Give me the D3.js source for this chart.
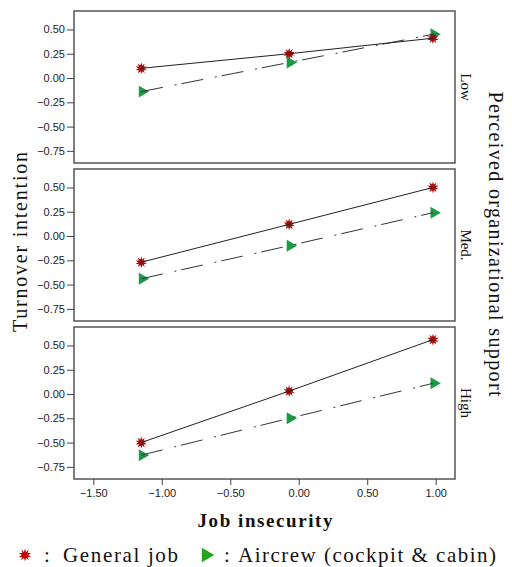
<!DOCTYPE html>
<html><head><meta charset="utf-8">
<script src="https://cdn.jsdelivr.net/npm/d3@7"></script>
<style>body{margin:0;background:#fff}</style>
</head><body>
<svg id="c" width="512" height="567"></svg>
<script>
const xValues = [-1.15, -0.07, 0.98];
const panels = ["Low", "Med.", "High"];
const generalJob = [[0.10, 0.25, 0.41], [-0.27, 0.12, 0.50], [-0.50, 0.03, 0.56]];
const aircrew = [[-0.14, 0.16, 0.45], [-0.44, -0.10, 0.24], [-0.63, -0.25, 0.11]];
const yTicks = [0.50, 0.25, 0.00, -0.25, -0.50, -0.75];
const xTicks = [-1.50, -1.00, -0.50, 0.00, 0.50, 1.00];

const svg = d3.select("#c");
const L = 74, R = 455, H = 152, tops = [11, 169, 327];
const x = d3.scaleLinear().domain([-1.641, 1.141]).range([L, R]);
const y = d3.scaleLinear().domain([-0.875, 0.69]).range([H, 0]);
const fmt = d3.format(".2f");
const sans = "Liberation Sans, Arial, sans-serif";
const serif = "Liberation Serif, Times New Roman, serif";

function starPath(ro, ri, n) {
  const pts = [];
  for (let i = 0; i < 2 * n; i++) {
    const a = Math.PI * i / n - Math.PI / 2;
    const r = i % 2 ? ri : ro;
    pts.push([r * Math.cos(a), r * Math.sin(a)]);
  }
  return "M" + pts.map(p => p.join(",")).join("L") + "Z";
}
const tri = d3.symbol().type(d3.symbolTriangle).size(62)();

panels.forEach((name, i) => {
  const g = svg.append("g").attr("transform", `translate(0,${tops[i]})`);
  g.append("rect").attr("x", L).attr("y", 0).attr("width", R - L).attr("height", H)
    .attr("fill", "#fff").attr("stroke", "#555").attr("stroke-width", 1.5);
  const ya = g.append("g").attr("transform", `translate(${L},0)`)
    .call(d3.axisLeft(y).tickValues(yTicks).tickFormat(fmt).tickSize(7).tickPadding(2));
  ya.select(".domain").remove();
  ya.selectAll("line").attr("stroke", "#444");
  ya.selectAll("text").attr("font-family", sans).attr("font-size", 11).attr("fill", "#222");
  if (i === 2) {
    const xa = g.append("g").attr("transform", `translate(0,${H})`)
      .call(d3.axisBottom(x).tickValues(xTicks).tickFormat(fmt).tickSize(6).tickPadding(4));
    xa.select(".domain").remove();
    xa.selectAll("line").attr("stroke", "#444");
    xa.selectAll("text").attr("font-family", sans).attr("font-size", 11).attr("fill", "#222");
  }
  g.selectAll(".tri").data(aircrew[i]).join("path")
    .attr("d", tri).attr("fill", "#1c9a48")
    .attr("transform", (d, k) => `translate(${x(xValues[k]) + 1},${y(d)}) rotate(90)`);
  g.selectAll(".star").data(generalJob[i]).join("path")
    .attr("d", starPath(6, 3, 10)).attr("fill", "#a30c0c")
    .attr("transform", (d, k) => `translate(${x(xValues[k])},${y(d)})`);
  const line = d3.line().x((d, k) => x(xValues[k])).y(d => y(d));
  g.append("path").datum(aircrew[i]).attr("d", line).attr("fill", "none")
    .attr("stroke", "#333").attr("stroke-width", 1).attr("stroke-dasharray", "22,12,2,5");
  g.append("path").datum(generalJob[i]).attr("d", line).attr("fill", "none")
    .attr("stroke", "#222").attr("stroke-width", 1);
  g.append("text").attr("transform", `translate(461,${H / 2}) rotate(90)`)
    .attr("text-anchor", "middle").attr("font-family", serif).attr("font-size", 15)
    .attr("fill", "#111").text(name);
});

svg.append("text").attr("transform", "translate(27,242) rotate(-90)")
  .attr("text-anchor", "middle").attr("font-family", serif).attr("font-size", 20)
  .attr("textLength", 180).attr("lengthAdjust", "spacing").attr("fill", "#111").text("Turnover intention");
svg.append("text").attr("transform", "translate(489,244) rotate(90)")
  .attr("text-anchor", "middle").attr("font-family", serif).attr("font-size", 20)
  .attr("textLength", 305).attr("lengthAdjust", "spacing").attr("fill", "#111").text("Perceived organizational support");
svg.append("text").attr("x", 265).attr("y", 527)
  .attr("text-anchor", "middle").attr("font-family", serif).attr("font-size", 19).attr("font-weight", "bold")
  .attr("textLength", 135).attr("lengthAdjust", "spacing").attr("fill", "#111").text("Job insecurity");

// legend
const lg = svg.append("g");
lg.append("path").attr("d", starPath(6.5, 3.2, 10)).attr("fill", "#c40000").attr("transform", "translate(25,555)");
lg.append("text").attr("x", 47).attr("y", 562).attr("text-anchor", "middle").attr("font-family", serif).attr("font-size", 21).attr("fill", "#111").text(":");
lg.append("text").attr("x", 63).attr("y", 562).attr("font-family", serif).attr("font-size", 21)
  .attr("textLength", 115).attr("lengthAdjust", "spacing").attr("fill", "#111").text("General job");
lg.append("path").attr("d", d3.symbol().type(d3.symbolTriangle).size(90)()).attr("fill", "#22a622")
  .attr("transform", "translate(206,555) rotate(90)");
lg.append("text").attr("x", 227).attr("y", 562).attr("text-anchor", "middle").attr("font-family", serif).attr("font-size", 21).attr("fill", "#111").text(":");
lg.append("text").attr("x", 238).attr("y", 562).attr("font-family", serif).attr("font-size", 21)
  .attr("textLength", 258).attr("lengthAdjust", "spacing").attr("fill", "#111").text("Aircrew (cockpit & cabin)");
</script>
</body></html>
